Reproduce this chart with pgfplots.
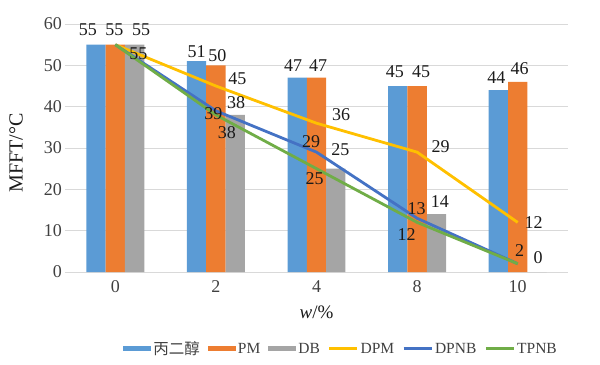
\documentclass[border=0pt]{standalone}
\usepackage{pgfplots}
\pgfplotsset{compat=1.18}
\usepackage{fontspec}
\setmainfont{Liberation Serif}
\newfontfamily\cjk{Noto Sans CJK SC}
\definecolor{cblue}{HTML}{5B9BD5}
\definecolor{corange}{HTML}{ED7D31}
\definecolor{cgray}{HTML}{A5A5A5}
\definecolor{cyellow}{HTML}{FFC000}
\definecolor{cdblue}{HTML}{4472C4}
\definecolor{cgreen}{HTML}{70AD47}
\definecolor{gridc}{HTML}{D9D9D9}
\definecolor{tickc}{HTML}{404040}
\definecolor{lblc}{HTML}{1A1A1A}
\newcommand{\lblfont}{\fontsize{18bp}{20bp}\selectfont}
\newcommand{\lbl}[4]{\addplot[draw=none, mark=none, forget plot, point meta=y, nodes near coords, every node near coord/.style={anchor=center, inner sep=0pt, xshift=#3bp, yshift=#4bp, font=\lblfont, text=lblc}] coordinates {(#1,#2)};}
\begin{document}
\begin{tikzpicture}
\useasboundingbox (-65bp,-93bp) rectangle (535bp,272bp);
\begin{axis}[
  at={(0,0)}, anchor=south west,
  scale only axis, width=503bp, height=248bp,
  xmin=-0.5, xmax=4.5, ymin=0, ymax=60,
  xtick={0,1,2,3,4}, xticklabels={0,2,4,8,10},
  ytick={0,10,...,60},
  axis lines*=left,
  x axis line style={draw=gridc, line width=1bp},
  y axis line style={draw=none},
  major tick length=0pt,
  ymajorgrids, grid style={draw=gridc, line width=1bp},
  /pgf/number format/assume math mode=true,
  xticklabel style={anchor=center, yshift=-15bp, font=\fontsize{18bp}{20bp}\selectfont, text=tickc},
  yticklabel style={anchor=east, inner sep=0pt, xshift=-3bp, font=\fontsize{18bp}{20bp}\selectfont, text=tickc},
  xlabel={\textit{w}/\%}, ylabel={MFFT/°C},
  every axis x label/.style={at={(axis description cs:0.5,0)}, yshift=-40bp, anchor=center, font=\fontsize{19bp}{21bp}\selectfont, text=lblc},
  every axis y label/.style={at={(axis description cs:-0.0974,0.48)}, rotate=90, anchor=center, font=\fontsize{20bp}{22bp}\selectfont, text=lblc},
  clip=false,
  legend style={at={(axis description cs:0.549,-0.31)}, anchor=center, draw=none, fill=none,
    font=\fontsize{15.5bp}{17bp}\selectfont, text=tickc,
    /tikz/every even column/.append style={column sep=6bp}},
  legend columns=6,
  legend cell align=left,
]
\addplot[ybar, bar width=0.192, bar shift=-0.192, fill=cblue, draw=none,
  legend image code/.code={\fill[cblue] (0bp,-2.5bp) rectangle (28bp,2.5bp);}]
  coordinates {(0,55) (1,51) (2,47) (3,45) (4,44)};
\addlegendentry{\cjk 丙二醇}
\addplot[ybar, bar width=0.192, bar shift=0, fill=corange, draw=none,
  legend image code/.code={\fill[corange] (0bp,-2.5bp) rectangle (28bp,2.5bp);}]
  coordinates {(0,55) (1,50) (2,47) (3,45) (4,46)};
\addlegendentry{PM}
\addplot[ybar, bar width=0.192, bar shift=0.192, fill=cgray, draw=none,
  legend image code/.code={\fill[cgray] (0bp,-2.5bp) rectangle (28bp,2.5bp);}]
  coordinates {(0,55) (1,38) (2,25) (3,14) (4,0)};
\addlegendentry{DB}
\addplot[cyellow, line width=2.8bp, line join=round, mark=none,
  legend image code/.code={\draw[cyellow, line width=2.8bp] (0bp,0bp) -- (28bp,0bp);}]
  coordinates {(0,55) (1,45) (2,36) (3,29) (4,12)};
\addlegendentry{DPM}
\addplot[cdblue, line width=2.8bp, line join=round, mark=none,
  legend image code/.code={\draw[cdblue, line width=2.8bp] (0bp,0bp) -- (28bp,0bp);}]
  coordinates {(0,55) (1,39) (2,29) (3,13) (4,2)};
\addlegendentry{DPNB}
\addplot[cgreen, line width=2.8bp, line join=round, mark=none,
  legend image code/.code={\draw[cgreen, line width=2.8bp] (0bp,0bp) -- (28bp,0bp);}]
  coordinates {(0,55) (1,38) (2,25) (3,12) (4,2)};
\addlegendentry{TPNB}
% bar labels
\lbl{-0.192}{55}{-8}{15} \lbl{0.808}{51}{0}{10} \lbl{1.808}{47}{-4}{12.5} \lbl{2.808}{45}{-3}{14} \lbl{3.808}{44}{-2}{13}
\lbl{0}{55}{-1}{15} \lbl{1}{50}{1.5}{9.5} \lbl{2}{47}{1.5}{12.5} \lbl{3}{45}{4}{14} \lbl{4}{46}{2}{13.5}
\lbl{0.192}{55}{6.5}{15} \lbl{1.192}{38}{1}{12} \lbl{2.192}{25}{4.5}{19} \lbl{3.192}{14}{3.5}{13} \lbl{4.192}{0}{1}{14.5}
% line labels
\lbl{1}{45}{21.5}{7.5} \lbl{2}{36}{24.5}{8.5} \lbl{3}{29}{23.5}{6} \lbl{4}{12}{16}{-0.5}
\lbl{0}{55}{23}{-9.3} \lbl{1}{39}{-2.5}{-3} \lbl{2}{29}{-5.5}{10.5} \lbl{3}{13}{-0.5}{9.3} \lbl{4}{2}{2}{13}
\lbl{1}{38}{11}{-17.5} \lbl{2}{25}{-2}{-10.3} \lbl{3}{12}{-10.5}{-12.6}
\end{axis}
\end{tikzpicture}
\end{document}
